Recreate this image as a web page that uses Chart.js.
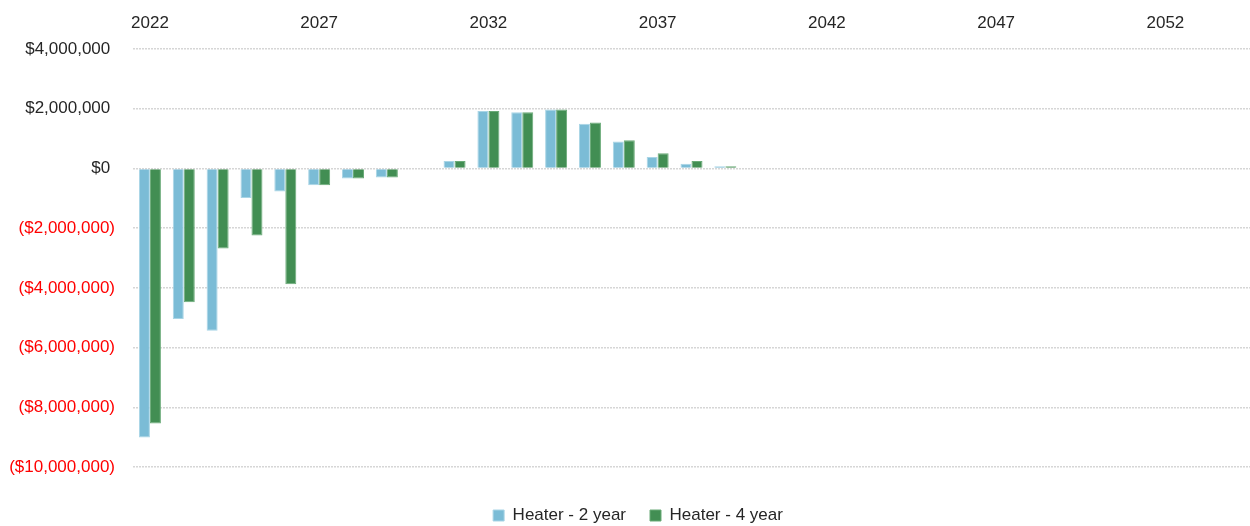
<!DOCTYPE html>
<html lang="en">
<head>
<meta charset="UTF-8">
<title>Heater</title>
<script src="https://cdn.jsdelivr.net/npm/chart.js"></script>
<style>
  html, body { margin: 0; padding: 0; background: #fff; }
  #wrap { width: 1250px; height: 526px; }
</style>
</head>
<body>
<div id="wrap"><canvas id="grafico"></canvas></div>
<script>
// years 2022 - 2054
const anos = [];
for (let a = 2022; a <= 2054; a++) anos.push(String(a));

const heater2 = [-9010000, -5040000, -5440000, -990000, -770000, -560000, -340000, -300000, 0,
  250000, 1920000, 1880000, 1970000, 1500000, 900000, 380000, 160000, 70000,
  0, 0, 0, 0, 0, 0, 0, 0, 0, 0, 0, 0, 0, 0, 0];
const heater4 = [-8540000, -4480000, -2680000, -2250000, -3880000, -560000, -340000, -300000, 0,
  250000, 1920000, 1880000, 1970000, 1540000, 940000, 510000, 250000, 70000,
  0, 0, 0, 0, 0, 0, 0, 0, 0, 0, 0, 0, 0, 0, 0];

const fonte = "'Liberation Sans', Arial, sans-serif";

// $#,##0_);($#,##0)
const fmt = v => {
  if (v === 0) return '$0 ';
  const s = '$' + Math.abs(v).toLocaleString('en-US');
  return v < 0 ? '(' + s + ')' : s + ' ';
};

// legend sits a bit right of the canvas centre in the original
const legendaShift = {
  id: 'legendaShift',
  afterLayout(chart) { chart.legend.left += 26; }
};

new Chart(document.getElementById('grafico'), {
  type: 'bar',
  data: {
    labels: anos,
    datasets: [
      { label: 'Heater - 2 year', data: heater2, backgroundColor: '#7bbcd6', borderColor: '#a9d5e6', borderWidth: 1, xAxisID: 'x' },
      { label: 'Heater - 4 year', data: heater4, backgroundColor: '#428e53', borderColor: '#6aab78', borderWidth: 1, xAxisID: 'x' }
    ]
  },
  plugins: [legendaShift],
  options: {
    responsive: true,
    maintainAspectRatio: false,
    animation: false,
    layout: { padding: { left: 0, right: 0, top: 0, bottom: -8 } },
    datasets: { bar: { categoryPercentage: 0.65, barPercentage: 1.0 } },
    plugins: {
      tooltip: { enabled: false },
      legend: {
        position: 'bottom',
        labels: {
          boxWidth: 11, boxHeight: 11, padding: 24,
          color: '#262626',
          font: { family: fonte, size: 17 }
        }
      }
    },
    scales: {
      x: {
        position: 'top',
        grid: { display: false },
        border: { display: false },
        ticks: {
          autoSkip: false, maxRotation: 0, padding: 7,
          color: '#262626',
          font: { family: fonte, size: 17 },
          callback: function (v, i) { return i % 5 === 0 ? this.getLabelForValue(v) : ''; }
        },
        afterFit: s => { s.height = 49; }
      },
      x2: {
        type: 'category',
        labels: anos,
        position: 'bottom',
        grid: { display: false },
        border: { display: false },
        ticks: { display: false },
        afterFit: s => { s.height = 16; }
      },
      y: {
        min: -10000000,
        max: 4000000,
        grid: { color: '#d6d6d6', lineWidth: 1.5, drawTicks: false },
        border: { display: false, dash: [2, 1] },
        ticks: {
          stepSize: 2000000,
          padding: 18,
          color: c => c.tick.value < 0 ? '#ff0000' : '#262626',
          font: { family: fonte, size: 17 },
          callback: v => fmt(v)
        },
        afterFit: s => { s.width = 133; }
      }
    }
  }
});
</script>
</body>
</html>
